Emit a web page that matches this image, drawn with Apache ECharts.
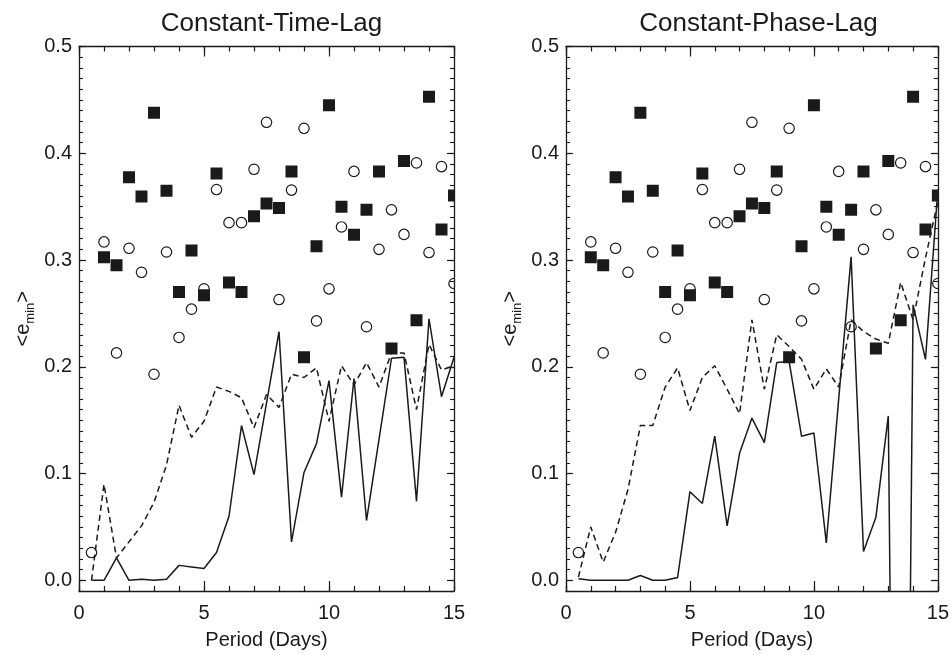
<!DOCTYPE html>
<html>
<head>
<meta charset="utf-8">
<script src="https://cdn.jsdelivr.net/npm/echarts@6/dist/echarts.min.js"></script>
<style>html,body{margin:0;padding:0;background:#fff}#c{width:952px;height:655px}</style>
</head>
<body>
<div id="c"></div>
<script>
// ---- data ----
const titles = ['Constant-Time-Lag', 'Constant-Phase-Lag'];
const xLabelName = 'Period (Days)';
const yTickValues = [0.0, 0.1, 0.2, 0.3, 0.4, 0.5];

const periods = [0.5, 1.0, 1.5, 2.0, 2.5, 3.0, 3.5, 4.0, 4.5, 5.0, 5.5, 6.0, 6.5, 7.0, 7.5,
                 8.0, 8.5, 9.0, 9.5, 10.0, 10.5, 11.0, 11.5, 12.0, 12.5, 13.0, 13.5, 14.0, 14.5, 15.0];

// open circles (same in both panels)
const circleVals = [0.026, 0.317, 0.213, 0.311, 0.2885, 0.193, 0.3075, 0.2275, 0.254, 0.273,
                    0.366, 0.335, 0.335, 0.385, 0.429, 0.263, 0.3655, 0.4234, 0.243, 0.273,
                    0.331, 0.383, 0.2375, 0.310, 0.347, 0.324, 0.391, 0.307, 0.3875, 0.278];

// filled squares (same in both panels), periods 1.0 .. 15.0
const squarePeriods = [1.0, 1.5, 2.0, 2.5, 3.0, 3.5, 4.0, 4.5, 5.0, 5.5, 6.0, 6.5, 7.0, 7.5,
                       8.0, 8.5, 9.0, 9.5, 10.0, 10.5, 11.0, 11.5, 12.0, 12.5, 13.0, 13.5, 14.0, 14.5, 15.0];
const squareVals = [0.3025, 0.295, 0.3776, 0.3595, 0.438, 0.365, 0.270, 0.309, 0.267, 0.381,
                    0.279, 0.270, 0.341, 0.353, 0.3487, 0.383, 0.209, 0.3128, 0.445, 0.350,
                    0.3237, 0.347, 0.383, 0.2172, 0.3928, 0.2437, 0.4529, 0.3287, 0.3605];

// Constant-Time-Lag lines
const timeSolid = [0, 0, 0.021, 0, 0.001, 0, 0.001, 0.014, 0.0125, 0.011,
                   0.026, 0.060, 0.145, 0.099, 0.166, 0.233, 0.036, 0.101, 0.128, 0.187,
                   0.078, 0.189, 0.056, 0.132, 0.208, 0.209, 0.074, 0.245, 0.172, 0.209];
const timeDashed = [0, 0.090, 0.021, 0.036, 0.051, 0.073, 0.108, 0.164, 0.134, 0.149,
                    0.181, 0.177, 0.171, 0.143, 0.174, 0.162, 0.193, 0.190, 0.199, 0.149,
                    0.201, 0.183, 0.204, 0.181, 0.213, 0.213, 0.160, 0.221, 0.197, 0.201];

// Constant-Phase-Lag lines
const phaseSolid = [0.0015, 0, 0, 0, 0, 0.0045, 0, 0, 0.0026, 0.083,
                    0.072, 0.135, 0.051, 0.119, 0.152, 0.129, 0.204, 0.205, 0.135, 0.138,
                    0.035, 0.170, 0.303, 0.027, 0.059, 0.154, -1.0, 0.258, 0.207, 0.366];
const phaseDashed = [0.003, 0.050, 0.017, 0.045, 0.085, 0.145, 0.145, 0.181, 0.199, 0.159,
                     0.190, 0.201, 0.179, 0.156, 0.244, 0.179, 0.230, 0.219, 0.207, 0.179,
                     0.198, 0.181, 0.244, 0.233, 0.226, 0.222, 0.279, 0.244, 0.302, 0.355];

// ---- chart ----
const FONT = 'Liberation Sans, Arial, Helvetica, sans-serif';
const INK = '#1a1a1a';
const grids = [
  {left: 79, top: 46.5, width: 375, height: 546},
  {left: 566, top: 46.5, width: 375, height: 546}
];
const YMIN = -0.01, YMAX = 0.5;

function pairs(xs, ys) { return xs.map((x, i) => [x, ys[i]]); }

const xAxis = [], yAxis = [], series = [];
const axisLine = {show: true, onZero: false, lineStyle: {color: INK, width: 1.3}};

grids.forEach((g, gi) => {
  // x axes: bottom major, bottom minor, top major, top minor
  xAxis.push({
    type: 'value', gridIndex: gi, min: 0, max: 15, interval: 5, position: 'bottom',
    axisLine: axisLine,
    axisTick: {show: true, inside: true, length: 10, lineStyle: {color: INK, width: 1.2}},
    axisLabel: {show: true, color: INK, fontSize: 20, fontFamily: FONT, margin: 12},
    splitLine: {show: false},
    name: xLabelName, nameLocation: 'middle', nameGap: 39,
    nameTextStyle: {color: INK, fontSize: 20, fontFamily: FONT}
  });
  xAxis.push({
    type: 'value', gridIndex: gi, min: 0, max: 15, interval: 1, position: 'bottom',
    axisLine: {show: false, onZero: false},
    axisTick: {show: true, inside: true, length: 5, lineStyle: {color: INK, width: 1.2}},
    axisLabel: {show: false}, splitLine: {show: false}
  });
  xAxis.push({
    type: 'value', gridIndex: gi, min: 0, max: 15, interval: 5, position: 'top',
    axisLine: axisLine,
    axisTick: {show: true, inside: true, length: 10, lineStyle: {color: INK, width: 1.2}},
    axisLabel: {show: false}, splitLine: {show: false}
  });
  xAxis.push({
    type: 'value', gridIndex: gi, min: 0, max: 15, interval: 1, position: 'top',
    axisLine: {show: false, onZero: false},
    axisTick: {show: true, inside: true, length: 5, lineStyle: {color: INK, width: 1.2}},
    axisLabel: {show: false}, splitLine: {show: false}
  });
  // y axes: left major, left minor, right major, right minor
  yAxis.push({
    type: 'value', gridIndex: gi, min: YMIN, max: YMAX, position: 'left',
    axisLine: axisLine,
    axisTick: {show: true, inside: true, length: 7, customValues: yTickValues, lineStyle: {color: INK, width: 1.2}},
    axisLabel: {show: true, customValues: yTickValues, color: INK, fontSize: 20, fontFamily: FONT, margin: 7,
                formatter: v => v.toFixed(1)},
    splitLine: {show: false},
    name: '{a|<e}{s|min}{a|>}', nameLocation: 'middle', nameGap: 46, nameRotate: 90,
    nameTextStyle: {color: INK, fontFamily: FONT,
      rich: {a: {fontSize: 20, fontFamily: FONT, color: INK, verticalAlign: 'top', lineHeight: 20},
             s: {fontSize: 13, fontFamily: FONT, color: INK, verticalAlign: 'top', lineHeight: 13, padding: [11, 0, 0, 0]}}}
  });
  yAxis.push({
    type: 'value', gridIndex: gi, min: YMIN, max: YMAX, interval: 0.01, position: 'left',
    axisLine: {show: false, onZero: false},
    axisTick: {show: true, inside: true, length: 4, lineStyle: {color: INK, width: 1.1}},
    axisLabel: {show: false}, splitLine: {show: false}
  });
  yAxis.push({
    type: 'value', gridIndex: gi, min: YMIN, max: YMAX, position: 'right',
    axisLine: axisLine,
    axisTick: {show: true, inside: true, length: 7, customValues: yTickValues, lineStyle: {color: INK, width: 1.2}},
    axisLabel: {show: false}, splitLine: {show: false}
  });
  yAxis.push({
    type: 'value', gridIndex: gi, min: YMIN, max: YMAX, interval: 0.01, position: 'right',
    axisLine: {show: false, onZero: false},
    axisTick: {show: true, inside: true, length: 4, lineStyle: {color: INK, width: 1.1}},
    axisLabel: {show: false}, splitLine: {show: false}
  });

  const xi = gi * 4, yi = gi * 4;
  const solid = gi === 0 ? timeSolid : phaseSolid;
  const dashed = gi === 0 ? timeDashed : phaseDashed;

  series.push({
    type: 'line', xAxisIndex: xi, yAxisIndex: yi, data: pairs(periods, dashed),
    showSymbol: false, symbol: 'none', clip: true, z: 2, silent: true,
    lineStyle: {color: INK, width: 1.5, type: [6, 4]}
  });
  series.push({
    type: 'line', xAxisIndex: xi, yAxisIndex: yi, data: pairs(periods, solid),
    showSymbol: false, symbol: 'none', clip: true, z: 2, silent: true,
    lineStyle: {color: INK, width: 1.5}
  });
  series.push({
    type: 'custom', xAxisIndex: xi, yAxisIndex: yi, data: pairs(periods, circleVals),
    clip: true, z: 3, silent: true,
    renderItem: (params, api) => {
      const p = api.coord([api.value(0), api.value(1)]);
      return {type: 'circle', shape: {cx: p[0], cy: p[1], r: 5.2},
              style: {fill: 'none', stroke: INK, lineWidth: 1.2}};
    }
  });
  series.push({
    type: 'custom', xAxisIndex: xi, yAxisIndex: yi, data: pairs(squarePeriods, squareVals),
    clip: true, z: 4, silent: true,
    renderItem: (params, api) => {
      const p = api.coord([api.value(0), api.value(1)]);
      return {type: 'rect', shape: {x: p[0] - 6, y: p[1] - 6, width: 12, height: 12},
              style: {fill: INK}};
    }
  });
});

const chart = echarts.init(document.getElementById('c'), null, {renderer: 'canvas'});
chart.setOption({
  animation: false,
  backgroundColor: '#fff',
  title: titles.map((t, i) => ({
    text: t, left: grids[i].left + grids[i].width / 2, top: 6, textAlign: 'center',
    textStyle: {color: INK, fontSize: 26, fontWeight: 'normal', fontFamily: FONT}
  })),
  grid: grids,
  xAxis: xAxis,
  yAxis: yAxis,
  series: series
});
</script>
</body>
</html>
